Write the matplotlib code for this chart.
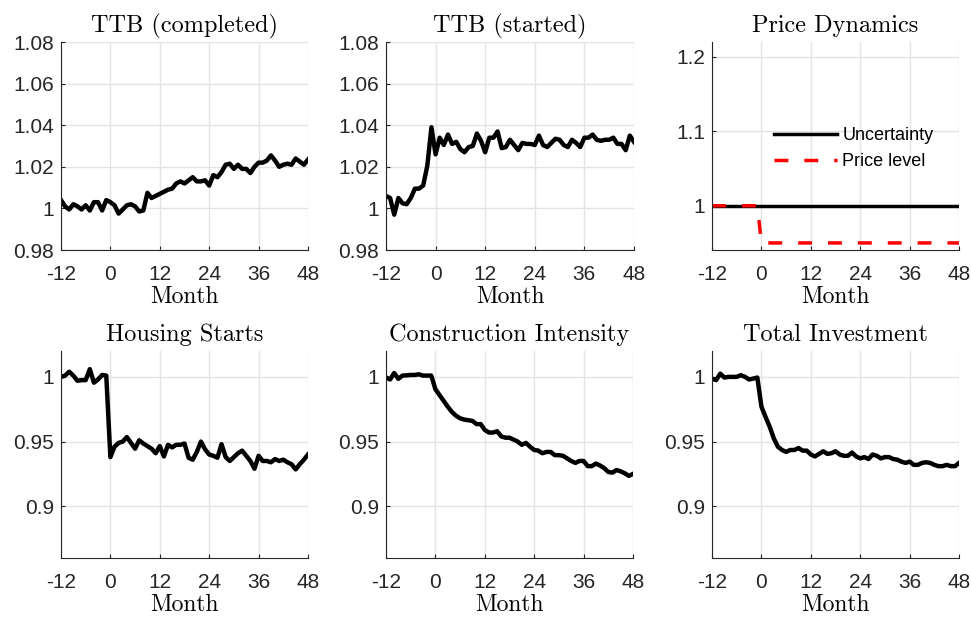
import matplotlib
matplotlib.use("Agg")
import matplotlib.pyplot as plt
from matplotlib.ticker import FuncFormatter

months = list(range(-12, 49))

ttb_completed = [
    1.004, 1.001, 0.9995, 1.002, 1.001, 0.9995, 1.0015, 0.999, 1.003, 1.003, 0.999, 1.004,
    1.003, 1.0015, 0.9975, 0.9995, 1.0015, 1.002, 1.001, 0.9985, 0.999, 1.0075, 1.005, 1.006,
    1.007, 1.008, 1.009, 1.0095, 1.012, 1.013, 1.012, 1.0135, 1.015, 1.013, 1.013, 1.0135,
    1.011, 1.016, 1.015, 1.0175, 1.021, 1.0215, 1.019, 1.021, 1.019, 1.019, 1.017, 1.020,
    1.022, 1.022, 1.023, 1.0255, 1.023, 1.020, 1.021, 1.0215, 1.021, 1.024, 1.0225, 1.021,
    1.0235,
]

ttb_started = [
    1.006, 1.005, 0.997, 1.005, 1.0025, 1.002, 1.005, 1.0095, 1.0095, 1.011, 1.0205, 1.039,
    1.026, 1.034, 1.0305, 1.0355, 1.031, 1.032, 1.0285, 1.027, 1.0295, 1.030, 1.036, 1.0325,
    1.027, 1.034, 1.034, 1.037, 1.029, 1.0295, 1.033, 1.0305, 1.028, 1.0315, 1.031, 1.031,
    1.0305, 1.035, 1.0305, 1.0295, 1.0315, 1.0335, 1.033, 1.0305, 1.0295, 1.033, 1.0315, 1.0295,
    1.034, 1.034, 1.0355, 1.033, 1.0325, 1.033, 1.033, 1.034, 1.031, 1.031, 1.028, 1.035,
    1.032,
]

uncertainty = [1.0] * 61
price_level = [1.0] * 12 + [0.95] * 49

housing_starts = [
    1.000, 1.001, 1.004, 1.001, 0.997, 0.9975, 0.9975, 1.006, 0.9955, 0.998, 1.0015, 1.001,
    0.938, 0.946, 0.949, 0.950, 0.9535, 0.949, 0.9445, 0.951, 0.9485, 0.9465, 0.9445, 0.941,
    0.9465, 0.9385, 0.9475, 0.9455, 0.9475, 0.9475, 0.9485, 0.9375, 0.936, 0.942, 0.950, 0.944,
    0.940, 0.939, 0.9375, 0.948, 0.938, 0.935, 0.938, 0.941, 0.943, 0.939, 0.935, 0.929,
    0.939, 0.935, 0.935, 0.934, 0.9365, 0.935, 0.936, 0.934, 0.9325, 0.9285, 0.9325, 0.936,
    0.940,
]

construction_intensity = [
    0.9995, 0.998, 1.003, 0.9985, 1.001, 1.0012, 1.0015, 1.0015, 1.002, 1.001, 1.001, 1.001,
    0.9905, 0.986, 0.9815, 0.977, 0.973, 0.970, 0.968, 0.967, 0.9665, 0.966, 0.9635, 0.9635,
    0.959, 0.957, 0.957, 0.958, 0.954, 0.953, 0.953, 0.9515, 0.950, 0.9475, 0.949, 0.946,
    0.9435, 0.943, 0.941, 0.942, 0.942, 0.9395, 0.9395, 0.939, 0.937, 0.935, 0.9335, 0.935,
    0.935, 0.931, 0.931, 0.933, 0.9315, 0.9295, 0.9265, 0.926, 0.928, 0.927, 0.9255, 0.9235,
    0.925,
]

total_investment = [
    0.9987, 0.9975, 1.0025, 0.9995, 1.0, 1.0, 1.0, 1.0013, 1.0, 0.998, 0.9987, 0.9995,
    0.977, 0.969, 0.9615, 0.9525, 0.946, 0.9435, 0.942, 0.9435, 0.9435, 0.945, 0.943, 0.943,
    0.940, 0.9385, 0.9405, 0.9425, 0.9405, 0.941, 0.9425, 0.940, 0.939, 0.939, 0.9415, 0.9385,
    0.937, 0.938, 0.9365, 0.940, 0.939, 0.937, 0.938, 0.938, 0.9365, 0.936, 0.9345, 0.9335,
    0.9345, 0.932, 0.932, 0.9335, 0.934, 0.9335, 0.932, 0.931, 0.931, 0.932, 0.931, 0.931,
    0.9335,
]

month_ticks = [-12, 0, 12, 24, 36, 48]

plt.rcParams["font.family"] = ["Liberation Sans", "DejaVu Sans"]
title_font = dict(family="cmr10", size=17.5)
label_font = dict(family="cmr10", size=17)
ink = "#262626"

fig = plt.figure(figsize=(9.71, 6.17), dpi=100)

# axes boxes: [left, bottom, width, height]
boxes = [
    [0.0628, 0.5948, 0.2544, 0.3371],
    [0.3975, 0.5948, 0.2554, 0.3371],
    [0.7333, 0.5948, 0.2544, 0.3371],
    [0.0628, 0.0956, 0.2544, 0.3355],
    [0.3975, 0.0956, 0.2544, 0.3355],
    [0.7333, 0.0956, 0.2544, 0.3355],
]
axes = [fig.add_axes(b) for b in boxes]


def style(ax, title, ylim, yticks):
    ax.set_title(title, fontdict=title_font, pad=7)
    ax.set_xlabel("Month", fontdict=label_font, labelpad=1)
    ax.set_xlim(-12, 48)
    ax.set_ylim(*ylim)
    ax.set_xticks(month_ticks)
    ax.set_yticks(yticks)
    fmt = FuncFormatter(lambda v, p: "%g" % round(v, 4))
    ax.xaxis.set_major_formatter(fmt)
    ax.yaxis.set_major_formatter(fmt)
    ax.grid(True, color="#e3e3e3", linewidth=1.0)
    ax.set_axisbelow(True)
    for side in ("top", "right"):
        ax.spines[side].set_visible(False)
    for side in ("left", "bottom"):
        ax.spines[side].set_color(ink)
        ax.spines[side].set_linewidth(0.8)
    ax.tick_params(direction="in", length=3, width=0.8, colors=ink,
                   labelsize=15)
    ax.tick_params(axis="x", pad=11)
    ax.tick_params(axis="y", pad=5)


lw = 3.2

ax = axes[0]
ax.plot(months, ttb_completed, color="black", linewidth=lw)
style(ax, "TTB (completed)", (0.98, 1.08), [0.98, 1.0, 1.02, 1.04, 1.06, 1.08])

ax = axes[1]
ax.plot(months, ttb_started, color="black", linewidth=lw)
style(ax, "TTB (started)", (0.98, 1.08), [0.98, 1.0, 1.02, 1.04, 1.06, 1.08])

ax = axes[2]
ax.plot(months, uncertainty, color="black", linewidth=2.5, label="Uncertainty")
ax.plot(months, price_level, color="red", linewidth=2.5, dashes=(4.0, 4.6),
        label="Price level")
style(ax, "Price Dynamics", (0.9405, 1.22), [1.0, 1.1, 1.2])
ax.legend(loc="upper left", bbox_to_anchor=(0.22, 0.625), frameon=False,
          fontsize=13, handlelength=3.5, handletextpad=0.3, labelspacing=0.5,
          borderaxespad=0)

ax = axes[3]
ax.plot(months, housing_starts, color="black", linewidth=lw)
style(ax, "Housing Starts", (0.86, 1.02), [0.9, 0.95, 1.0])

ax = axes[4]
ax.plot(months, construction_intensity, color="black", linewidth=lw)
style(ax, "Construction Intensity", (0.86, 1.02), [0.9, 0.95, 1.0])

ax = axes[5]
ax.plot(months, total_investment, color="black", linewidth=lw)
style(ax, "Total Investment", (0.86, 1.02), [0.9, 0.95, 1.0])

fig.savefig("out.png", dpi=100)
